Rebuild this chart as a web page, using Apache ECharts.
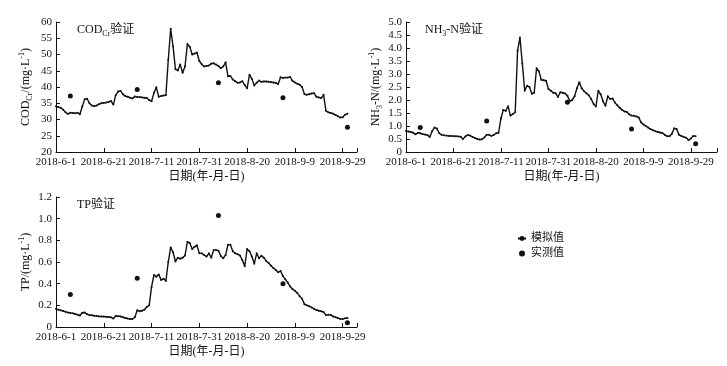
<!DOCTYPE html>
<html>
<head>
<meta charset="utf-8">
<script src="https://cdn.jsdelivr.net/npm/echarts@6/dist/echarts.min.js"></script>
<style>
html, body { margin: 0; padding: 0; background: #fff; }
#chart { width: 727px; height: 366px; }
</style>
</head>
<body>
<div id="chart"></div>
<script>
// x = day index counted from 2018-6-1
const tickLabels = ['2018-6-1', '2018-6-21', '2018-7-11', '2018-7-31', '2018-8-20', '2018-9-9', '2018-9-29']

const codSim = [
  34.1, 33.8, 33.6, 33.0, 32.2, 31.7, 32.1, 32.0, 31.9, 32.1,
  31.6, 34.0, 36.2, 36.4, 35.0, 34.3, 34.1, 34.3, 34.7, 35.0,
  35.1, 35.2, 35.4, 35.7, 34.6, 37.5, 38.6, 38.8, 37.8, 37.2,
  37.0, 36.7, 36.5, 37.1, 36.9, 36.9, 36.8, 36.7, 36.6, 36.0,
  35.6, 38.2, 39.9, 37.0, 37.2, 37.4, 37.5, 48.4, 57.9, 52.5,
  45.5, 45.1, 46.9, 44.4, 46.3, 53.2, 52.4, 50.0, 50.3, 50.6,
  48.0, 47.0, 46.3, 46.5, 46.6, 47.2, 47.3, 46.9, 46.5, 45.8,
  46.3, 47.6, 43.3, 43.4, 42.3, 41.8, 41.3, 41.4, 41.8, 40.6,
  39.6, 43.8, 42.5, 40.5, 41.3, 42.0, 41.6, 41.7, 41.7, 41.6,
  41.5, 41.4, 41.3, 40.9, 43.0, 42.8, 42.9, 42.9, 43.1, 41.9,
  41.4, 41.0, 40.7, 40.0, 37.8, 37.6, 37.8, 38.0, 38.1, 37.0,
  36.8, 36.6, 37.6, 32.7, 32.2, 32.0, 31.8, 31.4, 31.0, 30.6,
  30.7, 31.5, 31.8
]
const nh3Sim = [
  0.81, 0.79, 0.77, 0.74, 0.68, 0.74, 0.72, 0.69, 0.67, 0.65,
  0.58, 0.80, 0.94, 0.90, 0.72, 0.66, 0.64, 0.63, 0.62, 0.62,
  0.61, 0.61, 0.60, 0.59, 0.50, 0.60, 0.65, 0.63, 0.58, 0.54,
  0.50, 0.48, 0.49, 0.56, 0.66, 0.66, 0.62, 0.66, 0.72, 0.74,
  1.30, 1.62, 1.58, 1.76, 1.40, 1.46, 1.53, 3.90, 4.40, 3.40,
  2.36, 2.55, 2.50, 2.24, 2.28, 3.22, 3.10, 2.78, 2.76, 2.74,
  2.42, 2.36, 2.28, 2.26, 2.12, 2.30, 2.28, 2.25, 2.16, 1.96,
  2.00, 2.14, 2.45, 2.68, 2.45, 2.34, 2.26, 2.18, 2.04, 1.85,
  1.75, 2.36, 2.22, 1.95, 1.78, 2.14, 2.04, 2.06, 1.90, 1.80,
  1.70, 1.62, 1.56, 1.54, 1.45, 1.40, 1.39, 1.37, 1.33, 1.14,
  1.06, 1.00, 0.94, 0.88, 0.84, 0.80, 0.77, 0.75, 0.73, 0.66,
  0.61, 0.61, 0.70, 0.91, 0.88, 0.66, 0.62, 0.58, 0.55, 0.46,
  0.52, 0.62, 0.61
]
const tpSim = [
  0.168, 0.160, 0.154, 0.148, 0.140, 0.134, 0.130, 0.126, 0.120, 0.114,
  0.106, 0.132, 0.134, 0.118, 0.110, 0.108, 0.104, 0.102, 0.098, 0.097,
  0.096, 0.094, 0.092, 0.089, 0.078, 0.102, 0.100, 0.097, 0.090, 0.083,
  0.078, 0.074, 0.074, 0.090, 0.155, 0.145, 0.150, 0.160, 0.185, 0.200,
  0.370, 0.480, 0.465, 0.485, 0.435, 0.445, 0.425, 0.600, 0.735, 0.690,
  0.605, 0.640, 0.630, 0.640, 0.660, 0.785, 0.775, 0.720, 0.740, 0.755,
  0.680, 0.680, 0.665, 0.650, 0.680, 0.640, 0.710, 0.710, 0.705, 0.655,
  0.634, 0.665, 0.760, 0.760, 0.700, 0.680, 0.672, 0.660, 0.618, 0.560,
  0.720, 0.700, 0.650, 0.585, 0.680, 0.635, 0.658, 0.640, 0.610, 0.590,
  0.566, 0.545, 0.527, 0.505, 0.517, 0.470, 0.440, 0.410, 0.375, 0.350,
  0.335, 0.315, 0.285, 0.260, 0.211, 0.200, 0.192, 0.180, 0.168, 0.158,
  0.150, 0.145, 0.138, 0.110, 0.112, 0.112, 0.098, 0.090, 0.082, 0.075,
  0.073, 0.080, 0.083
]

const obsDays = [6, 34, 68, 95, 122]
const codObs = [37.2, 39.2, 41.3, 36.7, 27.6]
const nh3Obs = [0.94, 1.19, 1.91, 0.88, 0.32]
const tpObs = [0.30, 0.45, 1.03, 0.40, 0.04]

const FONT = "'Liberation Serif', 'Noto Sans CJK SC', serif"
const INK = '#111'

const richText = {
  n: { fontSize: 12, lineHeight: 16, fontWeight: 'normal', fontFamily: FONT, color: INK },
  s: { fontSize: 8, verticalAlign: 'bottom', fontWeight: 'normal', fontFamily: FONT, color: INK },
  p: { fontSize: 8, verticalAlign: 'top', fontWeight: 'normal', fontFamily: FONT, color: INK }
}

function xAxisFor (gridIndex, max) {
  return {
    type: 'value',
    gridIndex: gridIndex,
    min: 0,
    max: max,
    interval: 20,
    name: '日期(年-月-日)',
    nameLocation: 'middle',
    nameGap: 19,
    nameTextStyle: { fontSize: 12, color: INK, fontFamily: FONT },
    axisLine: { lineStyle: { color: INK, width: 1 } },
    axisTick: { inside: true, length: 4, lineStyle: { color: INK } },
    axisLabel: {
      margin: 5,
      fontSize: 11,
      color: INK,
      fontFamily: FONT,
      formatter: function (v) {
        return v % 20 === 0 ? (tickLabels[v / 20] || '') : ''
      }
    },
    splitLine: { show: false }
  }
}

function yAxisFor (gridIndex, min, max, interval, name, digits) {
  return {
    type: 'value',
    gridIndex: gridIndex,
    min: min,
    max: max,
    interval: interval,
    name: name,
    nameLocation: 'middle',
    nameGap: 22,
    nameTextStyle: { rich: richText },
    axisLine: { show: true, lineStyle: { color: INK, width: 1 } },
    axisTick: { show: true, inside: true, length: 4, lineStyle: { color: INK } },
    axisLabel: {
      margin: 4,
      fontSize: 11,
      color: INK,
      fontFamily: FONT,
      formatter: function (v) {
        return v === 0 ? '0' : v.toFixed(digits)
      }
    },
    splitLine: { show: false }
  }
}

function simSeries (idx, arr) {
  return {
    name: '模拟值',
    type: 'line',
    xAxisIndex: idx,
    yAxisIndex: idx,
    data: arr.map((v, i) => [i, v]),
    symbol: 'circle',
    symbolSize: 2,
    showSymbol: true,
    lineStyle: { color: INK, width: 1.4 },
    itemStyle: { color: INK },
    animation: false
  }
}

function obsSeries (idx, arr) {
  return {
    name: '实测值',
    type: 'scatter',
    xAxisIndex: idx,
    yAxisIndex: idx,
    data: arr.map((v, i) => [obsDays[i], v]),
    symbol: 'circle',
    symbolSize: 5,
    itemStyle: { color: INK, opacity: 1 },
    animation: false
  }
}

const chart = echarts.init(document.getElementById('chart'))
chart.setOption({
  backgroundColor: '#fff',
  animation: false,
  title: [
    { text: '{n|COD}{s|Cr}{n|验证}', left: 72, top: 17, textStyle: { fontWeight: 'normal', rich: richText } },
    { text: '{n|NH}{s|3}{n|-N验证}', left: 420, top: 17, textStyle: { fontWeight: 'normal', rich: richText } },
    { text: '{n|TP验证}', left: 72, top: 192, textStyle: { fontWeight: 'normal', rich: richText } }
  ],
  legend: {
    orient: 'vertical',
    left: 512,
    top: 228,
    itemWidth: 8,
    itemHeight: 6,
    itemGap: 4,
    textStyle: { fontSize: 11, color: INK, fontFamily: FONT },
    data: ['模拟值', '实测值']
  },
  grid: [
    { left: 56, top: 22, width: 301, height: 130 },
    { left: 406, top: 22, width: 311, height: 130 },
    { left: 56, top: 197, width: 301, height: 130 }
  ],
  xAxis: [xAxisFor(0, 126), xAxisFor(1, 131), xAxisFor(2, 126)],
  yAxis: [
    yAxisFor(0, 20, 60, 5, '{n|COD}{s|Cr}{n|/(mg·L}{p|-1}{n|)}', 0),
    yAxisFor(1, 0, 5, 0.5, '{n|NH}{s|3}{n|-N/(mg·L}{p|-1}{n|)}', 1),
    yAxisFor(2, 0, 1.2, 0.2, '{n|TP/(mg·L}{p|-1}{n|)}', 1)
  ],
  series: [
    simSeries(0, codSim), obsSeries(0, codObs),
    simSeries(1, nh3Sim), obsSeries(1, nh3Obs),
    simSeries(2, tpSim), obsSeries(2, tpObs)
  ]
})
</script>
</body>
</html>
